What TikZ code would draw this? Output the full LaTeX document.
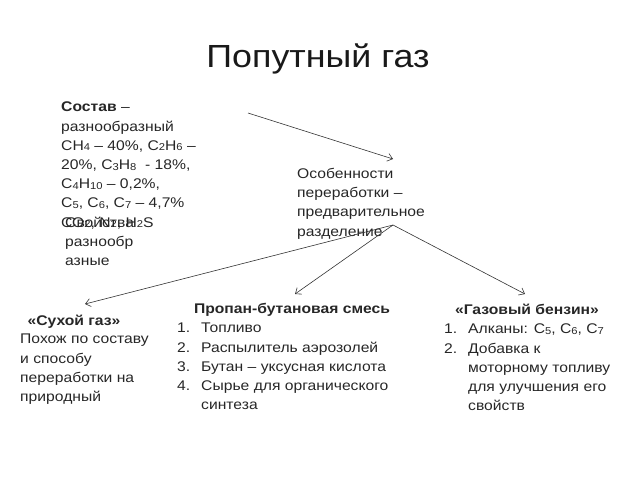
\documentclass[tikz,border=0pt]{standalone}
\usepackage{fontspec}
\setmainfont{Liberation Sans}[FakeStretch=1.12]
\usetikzlibrary{arrows.meta,positioning}
\tikzset{
  txt/.style={
    anchor = north west,
    inner sep = 0pt,
    align = left,
    font = \fontsize{14}{19.2}\selectfont,
    text = black!85
  },
  head/.style={
    anchor = north,
    inner sep = 0pt,
    font = \fontsize{14}{19.2}\selectfont\bfseries,
    text = black!85
  },
  link/.style={
    draw = black!80,
    line width = 0.6pt,
    -{Straight Barb[length=5pt,width=8pt]}
  }
}
\newcommand{\sub}[1]{\raisebox{-0.5pt}{\fontsize{10}{10}\selectfont #1}}
\newcommand{\itm}[1]{\makebox[24pt][l]{#1}}

\begin{document}
\begin{tikzpicture}[x=1pt,y=-1pt]
    \useasboundingbox (0,0) rectangle (640,480);
    \node[anchor=base, inner sep=0pt, font=\fontsize{32}{36}\selectfont, text=black!90] (title) at (318,67) {Попутный газ};
    % left block
    \node[txt] (sostav) at (61,102) {\textbf{Состав} --\\разнообразный\\СН\sub{4} -- 40\%, С\sub{2}Н\sub{6} --\\20\%, С\sub{3}Н\sub{8} \ - 18\%,\\С\sub{4}Н\sub{10} -- 0,2\%,\\С\sub{5}, С\sub{6}, С\sub{7} -- 4,7\%\\СО\sub{2}, N\sub{2}, H\sub{2}S};
    \node[txt] (svoistva) at (65,217) {Свойства\\разнообр\\азные};
    \node[txt] (osob) at (297,168) {Особенности\\переработки --\\предварительное\\разделение};
    % lower blocks
    \node[head] (suh) at (74,315) {«Сухой газ»};
    \node[txt] (suhtxt) at (20,334) {Похож по составу\\и способу\\переработки на\\природный};
    \node[head] (prop) at (292,303) {Пропан-бутановая смесь};
    \node[txt] (proptxt) at (177,323) {\itm{1.}Топливо\\\itm{2.}Распылитель аэрозолей\\\itm{3.}Бутан -- уксусная кислота\\\itm{4.}Сырье для органического\\\itm{}синтеза};
    \node[head] (benz) at (527,304) {«Газовый бензин»};
    \node[txt] (benztxt) at (444,324) {\itm{1.}Алканы: С\sub{5}, С\sub{6}, С\sub{7}\\\itm{2.}Добавка к\\\itm{}моторному топливу\\\itm{}для улучшения его\\\itm{}свойств};
    % connectors
    \coordinate (sostavEnd) at (248,113);
    \coordinate (osobTop) at (393,159);
    \coordinate (razd) at (393,225);
    \coordinate (suhTip) at (85,304);
    \coordinate (propTip) at (295,294);
    \coordinate (benzTip) at (525,294);
    \draw[link] (sostavEnd) -- (osobTop);
    \draw[link] (razd) -- (suhTip);
    \draw[link] (razd) -- (propTip);
    \draw[link] (razd) -- (benzTip);
\end{tikzpicture}
\end{document}
